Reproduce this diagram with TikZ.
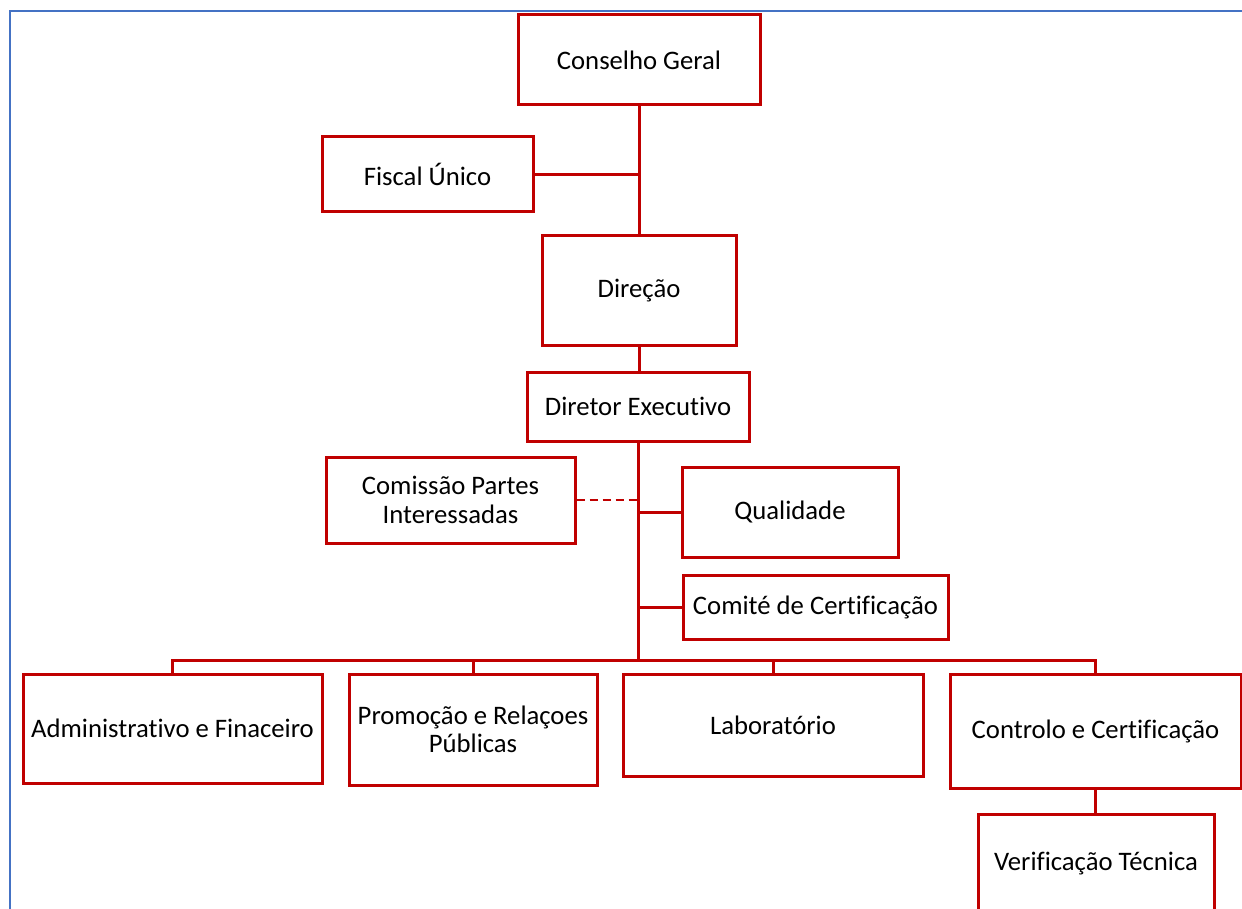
\documentclass[tikz,border=0pt]{standalone}
\usepackage{fontspec}
\setmainfont{Carlito}[Ligatures=NoCommon]
\definecolor{boxred}{RGB}{192,0,0}
\definecolor{frameblue}{RGB}{68,114,196}
\begin{document}
\begin{tikzpicture}[x=1pt,y=-1pt,
  orgbox/.style={draw=boxred,line width=3pt,fill=white,rectangle,inner sep=0pt,align=center,
    font=\fontsize{26.7}{28.5}\selectfont,text=black},
  link/.style={draw=boxred,line width=3pt},
  dlink/.style={draw=boxred,line width=2pt,dash pattern=on 8pt off 5pt}]
\useasboundingbox (0,0) rectangle (1242,909);
\clip (0,0) rectangle (1242,909);
\fill[white] (0,0) rectangle (1242,909);
\draw[frameblue,line width=2pt] (10,909) -- (10,11) -- (1242,11);

\node[orgbox,minimum width=242pt,minimum height=90pt] (cg) at (639,60) {Conselho Geral};
\node[orgbox,minimum width=211pt,minimum height=75pt] (fu) at (427.5,174.5) {Fiscal Único};
\node[orgbox,minimum width=194pt,minimum height=109pt] (di) at (639,290.5) {Direção};
\node[orgbox,minimum width=222pt,minimum height=69pt] (de) at (638,406.5) {Diretor Executivo};
\node[orgbox,minimum width=249pt,minimum height=86pt] (cp) at (450.5,500) {Comissão Partes\\Interessadas};
\node[orgbox,minimum width=216pt,minimum height=90pt] (ql) at (790,512) {Qualidade};
\node[orgbox,minimum width=265pt,minimum height=64pt] (cc) at (815.5,607) {Comité de Certificação};
\node[orgbox,minimum width=299pt,minimum height=109pt] (ad) at (172.5,728.5) {Administrativo e Finaceiro};
\node[orgbox,minimum width=248pt,minimum height=111pt] (pr) at (473,729.5) {Promoção e Relaçoes\\Públicas};
\node[orgbox,minimum width=300pt,minimum height=102pt] (lb) at (773,725) {Laboratório};
\node[orgbox,minimum width=291pt,minimum height=114pt] (co) at (1095.5,731) {Controlo e Certificação};
\node[orgbox,minimum width=236pt,minimum height=100pt] (vt) at (1096,864) {Verificação Técnica};

\coordinate (bus) at (638,660);
\draw[link] (cg.south) -- (di.north);
\draw[link] (fu.east) -- (fu.east -| cg.south);
\draw[link] (di.south) -- (di.south |- de.north);
\draw[link] (de.south) -- (bus);
\draw[dlink] (cp.east) -- (cp.east -| bus);
\draw[link] (ql.west) -- (ql.west -| bus);
\draw[link] (cc.west) -- (cc.west -| bus);
\draw[link] (ad.north) |- (bus);
\draw[link] (pr.north) |- (bus);
\draw[link] (lb.north) |- (bus);
\draw[link] (co.north) |- (bus);
\draw[link] (co.south) -- (co.south |- vt.north);
\end{tikzpicture}
\end{document}
